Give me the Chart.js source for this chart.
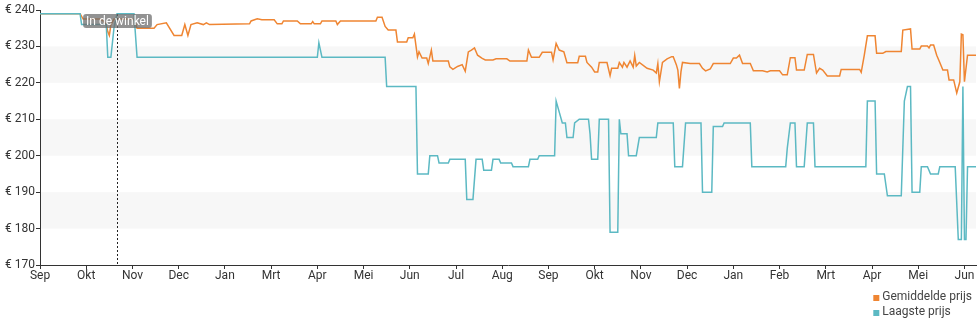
<!DOCTYPE html>
<html lang="nl">
<head>
<meta charset="utf-8">
<title>Prijsverloop</title>
<script src="https://cdn.jsdelivr.net/npm/chart.js@4.4.1/dist/chart.umd.min.js"></script>
<style>
  html, body { margin: 0; padding: 0; background: #fff; }
  #prijsChart { display: block; }
</style>
</head>
<body>
<canvas id="prijsChart" width="980" height="325"></canvas>
<script>
// Labels onder de x-as, één tick per 30 dagen
const maandLabels = ['Sep', 'Okt', 'Nov', 'Dec', 'Jan', 'Mrt', 'Apr', 'Mei', 'Jun', 'Jul', 'Aug',
                     'Sep', 'Okt', 'Nov', 'Dec', 'Jan', 'Feb', 'Mrt', 'Apr', 'Mei', 'Jun'];
const dagenPerTick = 30;
const laatsteDag = 607.5;

// Gemiddelde prijs (dag, prijs in euro)
const dagenGem = [0, 26, 28, 39, 41, 43, 44, 45, 46, 48, 61, 63, 74, 76, 82, 87, 92, 94, 96, 98,
  102, 106, 108, 110, 136, 137, 141, 144, 152, 154, 157, 158, 167, 169, 176, 177, 178, 182, 183, 192,
  193, 195, 218, 219, 222, 224, 226, 231, 232, 238, 239, 242, 243, 245, 246, 248, 251, 252, 254, 255,
  265, 266, 268, 271, 274, 276, 278, 280, 282, 284, 287, 289, 294, 296, 303, 305, 316, 317, 319, 324,
  326, 332, 333, 335, 337, 340, 342, 349, 350, 354, 355, 358, 360, 362, 363, 368, 370, 371, 375, 376,
  378, 379, 381, 383, 385, 386, 387, 389, 393, 394, 398, 400, 401, 402, 404, 407, 410, 411, 413, 414,
  415, 416, 417, 422, 428, 430, 432, 435, 437, 448, 450, 452, 454, 456, 461, 463, 469, 472, 474, 480,
  482, 485, 487, 490, 491, 496, 498, 502, 504, 506, 508, 511, 519, 520, 532, 533, 535, 537, 542, 543,
  547, 549, 559, 560, 565, 566, 571, 572, 576, 577, 578, 580, 582, 584, 586, 589, 590, 593, 595, 597,
  598, 599, 600, 602, 607.5];
const prijsGem = [239, 239, 237.5, 237.5, 237, 236, 234, 233, 236, 237.5, 237.5, 235, 235, 236, 236.5, 233, 233, 236, 233, 236,
  236.5, 236, 236.5, 236, 236.2, 237, 237.6, 237.3, 237.3, 236.2, 236.2, 237, 237, 236.2, 236.2, 236.8, 236.2, 236.2, 237, 237,
  236, 237, 237, 238, 238, 235.5, 234.5, 234.5, 231.2, 231.2, 232.4, 232.4, 233.4, 227.1, 228.5, 226.8, 226.8, 225.3, 229, 226,
  226, 224.4, 223.7, 224.5, 225, 223.2, 228.5, 229, 229.6, 227.6, 226.7, 226.3, 226.3, 226.6, 226.6, 226, 226, 229, 227, 227,
  228.4, 228.4, 226.3, 230.8, 229, 228.5, 225.5, 225.5, 227.3, 227.3, 225.6, 224.3, 223, 223, 225.6, 225.6, 222, 224, 224, 225.6,
  224.3, 225.6, 224.3, 226, 224.3, 227.5, 224.6, 225.6, 224.3, 224, 223.5, 222.7, 225.3, 220.3, 225.6, 226.6, 227.2, 227.2, 225, 223.5,
  218.5, 223, 225.6, 225.3, 225.3, 224, 223.3, 223.8, 225.3, 225.3, 226.8, 226.8, 227.6, 225.3, 225.3, 223.3, 223.3, 223, 223.3, 223.3,
  222.2, 222.2, 226.9, 226.9, 223.5, 223.5, 227.8, 227.8, 222.7, 224, 223.5, 221.9, 221.9, 223.7, 223.7, 222.9, 227.6, 232.9, 232.9, 228.1,
  228.1, 228.6, 228.6, 234.5, 234.8, 229.3, 229.3, 230.1, 230.1, 229.6, 230.4, 230.4, 227.6, 225.6, 223.5, 223.5, 220.8, 220.8, 217.2, 220.3,
  233.4, 233.2, 220.3, 227.6, 227.6];

// Laagste prijs (dag, prijs in euro)
const dagenLaag = [0, 26, 27, 43, 44, 46, 48, 50, 61, 63, 180, 181, 183, 224, 225, 244, 245, 252, 253, 258,
  259, 265, 266, 276, 277, 281, 283, 287, 288, 293, 294, 298, 299, 306, 307, 317, 318, 323, 324, 334,
  335, 339, 341, 342, 346, 347, 350, 356, 357, 358, 362, 363, 369, 370, 375, 376, 377, 381, 382, 387,
  389, 400, 401, 411, 412, 417, 419, 429, 430, 436, 437, 443, 444, 461, 462, 484, 485, 487, 490, 491,
  496, 498, 502, 503, 536, 537, 542, 543, 548, 550, 559, 561, 563, 565, 566, 571, 572, 576, 578, 583,
  584, 594, 596, 598, 599, 600, 601, 602, 607.5];
const prijsLaag = [239, 239, 236, 236, 227, 227, 235, 239, 239, 227, 227, 231, 227, 227, 219, 219, 195, 195, 200, 200,
  198, 198, 199, 199, 188, 188, 199, 199, 196, 196, 199, 199, 198, 198, 197, 197, 199, 199, 200, 200,
  215, 209, 209, 205, 205, 209, 210, 210, 206, 199, 199, 210, 210, 179, 179, 210, 206, 206, 200, 200,
  205, 205, 209, 209, 197, 197, 209, 209, 190, 190, 208, 208, 209, 209, 197, 197, 202, 209, 209, 197,
  197, 209, 209, 197, 197, 215, 215, 195, 195, 189, 189, 215, 219, 219, 190, 190, 197, 197, 195, 195,
  197, 197, 177, 177, 219, 177, 177, 197, 197];

// Markering van de dag dat het product in de winkel kwam
const winkelDag = 50;
const winkelTekst = 'In de winkel';

function maakPunten(dagen, prijzen) {
    return dagen.map((dag, i) => ({ x: dag, y: prijzen[i] }));
}

Chart.defaults.font.family = 'Roboto, "Noto Sans", sans-serif';
Chart.defaults.font.size = 12;
Chart.defaults.color = '#333';

// Lichtgrijze banden tussen om-en-om de y-ticks
const banden = {
    id: 'banden',
    beforeDraw(chart) {
        const { ctx, chartArea, scales: { y } } = chart;
        ctx.save();
        ctx.fillStyle = '#f7f7f7';
        y.ticks.forEach((tick, i) => {
            if (i % 2 === 1 && i < y.ticks.length - 1) {
                const boven = y.getPixelForValue(y.ticks[i + 1].value);
                const onder = y.getPixelForValue(tick.value);
                ctx.fillRect(chartArea.left, boven, chartArea.right - chartArea.left, onder - boven);
            }
        });
        ctx.restore();
    }
};

// Stippellijn met label "In de winkel"
const winkelMarkering = {
    id: 'winkelMarkering',
    afterDatasetsDraw(chart) {
        const { ctx, chartArea, scales: { x } } = chart;
        const px = Math.round(x.getPixelForValue(winkelDag)) + 0.5;
        ctx.save();
        ctx.strokeStyle = '#222';
        ctx.lineWidth = 1;
        ctx.setLineDash([2, 2]);
        ctx.beginPath();
        ctx.moveTo(px, chartArea.top + 4);
        ctx.lineTo(px, chartArea.bottom);
        ctx.stroke();
        ctx.setLineDash([]);

        ctx.font = '12px Roboto, sans-serif';
        const breedte = ctx.measureText(winkelTekst).width + 6;
        const hoogte = 14;
        const top = chartArea.top + 4;
        ctx.fillStyle = 'rgba(110, 110, 110, 0.75)';
        ctx.beginPath();
        ctx.roundRect(px - breedte / 2, top, breedte, hoogte, 3);
        ctx.fill();
        ctx.fillStyle = '#fff';
        ctx.textAlign = 'center';
        ctx.textBaseline = 'middle';
        ctx.fillText(winkelTekst, px, top + hoogte / 2 + 0.5);
        ctx.restore();
    }
};

// Legenda rechtsonder, items onder elkaar
const legendaRechtsOnder = {
    id: 'legendaRechtsOnder',
    afterDraw(chart) {
        const { ctx, chartArea } = chart;
        const sets = chart.data.datasets;
        ctx.save();
        ctx.font = '12px Roboto, sans-serif';
        const maxBreedte = Math.max(...sets.map(s => ctx.measureText(s.label).width));
        const tekstX = chart.width - 8 - maxBreedte;
        sets.forEach((set, i) => {
            const midden = chartArea.bottom + 32 + i * 15;
            ctx.fillStyle = set.borderColor;
            ctx.fillRect(tekstX - 9, midden - 2, 6, 6);
            ctx.fillStyle = '#444';
            ctx.textAlign = 'left';
            ctx.textBaseline = 'middle';
            ctx.fillText(set.label, tekstX, midden);
        });
        ctx.restore();
    }
};

const ctx = document.getElementById('prijsChart').getContext('2d');
const prijsChart = new Chart(ctx, {
    type: 'line',
    data: {
        datasets: [{
            label: 'Gemiddelde prijs',
            data: maakPunten(dagenGem, prijsGem),
            borderColor: '#ef8532',
            borderWidth: 1.5,
            pointRadius: 0,
            tension: 0,
            order: 1
        }, {
            label: 'Laagste prijs',
            data: maakPunten(dagenLaag, prijsLaag),
            borderColor: '#5cb9c3',
            borderWidth: 1.5,
            pointRadius: 0,
            tension: 0,
            order: 0
        }]
    },
    options: {
        responsive: false,
        animation: false,
        layout: { padding: { top: 10, right: 4 } },
        plugins: {
            legend: { display: false },
            tooltip: { enabled: false }
        },
        scales: {
            x: {
                type: 'linear',
                min: 0,
                max: laatsteDag,
                afterBuildTicks: scale => {
                    scale.ticks = maandLabels.map((_, i) => ({ value: i * dagenPerTick }));
                },
                afterFit: scale => { scale.height = 60; },
                ticks: {
                    autoSkip: false,
                    maxRotation: 0,
                    padding: 0,
                    callback: (waarde, index) => maandLabels[index]
                },
                grid: { drawOnChartArea: false, drawTicks: true, tickLength: 4, color: '#333' },
                border: { color: '#333' }
            },
            y: {
                min: 170,
                max: 240,
                afterFit: scale => { scale.width = 40; },
                ticks: {
                    stepSize: 10,
                    padding: 1,
                    callback: waarde => '€ ' + waarde
                },
                grid: { drawOnChartArea: false, drawTicks: true, tickLength: 4, color: '#333' },
                border: { color: '#333' }
            }
        }
    },
    plugins: [banden, winkelMarkering, legendaRechtsOnder]
});
</script>
</body>
</html>
